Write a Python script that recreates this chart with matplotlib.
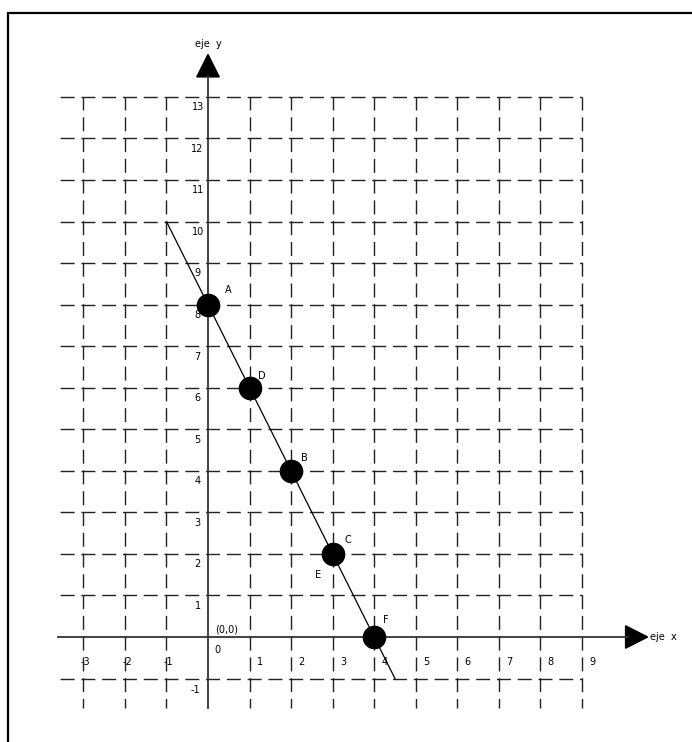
import numpy as np
import matplotlib
matplotlib.use("Agg")
import matplotlib.pyplot as plt
from matplotlib.patches import Polygon, Rectangle

# puntos sobre la recta y = 8 - 2x
pointX = [0, 1, 2, 3, 4]
pointY = [8, 6, 4, 2, 0]
pointNames = ["A", "D", "B", "C", "F"]
nameOffsets = [(0.48, 0.36), (0.3, 0.27), (0.33, 0.3), (0.36, 0.33), (0.27, 0.4)]

# recta dibujada
lineX = [-1, 4.5]
lineY = [10, -1]

# cuadricula
gridX = list(range(-3, 10))
gridY = list(range(-1, 14))
xTickLabels = ["-3", "-2", "-1", "0", "1", "2", "3", "4", "5", "6", "7", "8", "9"]
yTickLabels = ["-1", "0", "1", "2", "3", "4", "5", "6", "7", "8", "9", "10", "11", "12", "13"]

W, H, DPI = 692, 742, 100
unit = 41.55
x0px, y0px = 208, 637

fig = plt.figure(figsize=(W / DPI, H / DPI), dpi=DPI)
ax = fig.add_axes([0, 0, 1, 1])
ax.set_xlim(-x0px / unit, (W - x0px) / unit)
ax.set_ylim(-(H - y0px) / unit, y0px / unit)
ax.axis("off")

# two dashes per cell, one starting just before each crossing
px2pt = 72 / DPI
period = unit / 2
dashPx = 14
pattern = (dashPx * px2pt, (period - dashPx) * px2pt)
hStart = 0.6 * unit - 2
hDash = ((period - hStart % period) * px2pt, pattern)
vDash = (1 * px2pt, pattern)
gridColor = "#222222"

# lineas horizontales discontinuas
for y in gridY:
    if y == 0:
        continue
    ax.plot([-3.6, 9], [y, y], color=gridColor, lw=1.0, linestyle=hDash)

# lineas verticales discontinuas
for x in gridX:
    if x == 0:
        continue
    ax.plot([x, x], [13, -1.7], color=gridColor, lw=1.0, linestyle=vDash)

# ejes
axisColor = "#333333"
ax.plot([-3.6, 10.1], [0, 0], color=axisColor, lw=1.3)
ax.plot([0, 0], [-1.7, 13.5], color=axisColor, lw=1.3)
ax.add_patch(Polygon([[10.05, 0.27], [10.05, -0.27], [10.58, 0]], closed=True,
                     color="black"))
ax.add_patch(Polygon([[-0.27, 13.48], [0.27, 13.48], [0, 14.02]], closed=True,
                     color="black"))
ax.text(0, 14.27, "eje  y", fontsize=7, ha="center", va="center")
ax.text(10.63, 0, "eje  x", fontsize=7, ha="left", va="center")

# etiquetas de los ejes
for x, lab in zip(gridX, xTickLabels):
    if x == 0:
        ax.text(0.22, -0.31, lab, fontsize=7, ha="center", va="center")
    elif x < 0:
        ax.text(x + 0.05, -0.6, lab, fontsize=7, ha="center", va="center")
    else:
        ax.text(x + 0.25, -0.6, lab, fontsize=7, ha="center", va="center")

for y, lab in zip(gridY, yTickLabels):
    if y == 0:
        continue
    if y < 0:
        ax.text(-0.3, y - 0.28, lab, fontsize=7, ha="center", va="center")
    else:
        ax.text(-0.25, y - 0.25, lab, fontsize=7, ha="center", va="center")

ax.text(0.45, 0.17, "(0,0)", fontsize=7, ha="center", va="center")

# recta y puntos
ax.plot(lineX, lineY, color="black", lw=0.9)
ax.plot(pointX, pointY, "o", color="black", ms=16, zorder=5)
for x, y, name, (dx, dy) in zip(pointX, pointY, pointNames, nameOffsets):
    ax.text(x + dx, y + dy, name, fontsize=7, ha="center", va="center")
ax.text(3 - 0.36, 2 - 0.5, "E", fontsize=7, ha="center", va="center")

# marco
fig.add_artist(Rectangle((8 / W, -0.05), 1.1, 1 - 13 / H + 0.05,
                         transform=fig.transFigure, fill=False,
                         edgecolor="black", lw=1.6))

fig.savefig("out.png", dpi=DPI, facecolor="white")
